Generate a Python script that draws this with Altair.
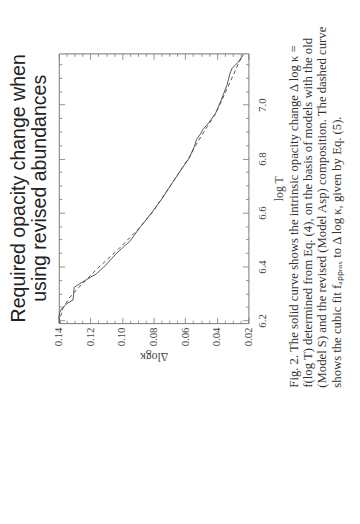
import altair as alt
import pandas as pd

# ---- data ----
logT_solid = [6.190, 6.200, 6.212, 6.228, 6.243, 6.262, 6.276, 6.300, 6.323, 6.339,
              6.355, 6.372, 6.397, 6.420, 6.445, 6.470, 6.493, 6.542, 6.573, 6.603,
              6.652, 6.707, 6.761, 6.804, 6.847, 6.871, 6.890, 6.908, 6.932, 6.968,
              7.017, 7.072, 7.092, 7.113, 7.133, 7.157, 7.184]
dk_solid = [0.1388, 0.1398, 0.1400, 0.1395, 0.1382, 0.1350, 0.1310, 0.1306, 0.1303, 0.1259,
            0.1215, 0.1164, 0.1117, 0.1080, 0.1041, 0.0996, 0.0951, 0.0890, 0.0848, 0.0808,
            0.0746, 0.0685, 0.0623, 0.0572, 0.0541, 0.0528, 0.0505, 0.0488, 0.0452, 0.0408,
            0.0372, 0.0336, 0.0327, 0.0318, 0.0305, 0.0266, 0.0233]

logT_fit = [6.190, 6.244, 6.280, 6.317, 6.353, 6.390, 6.427, 6.463, 6.500, 6.543,
            6.602, 6.653, 6.708, 6.763, 6.810, 6.847, 6.883, 6.920, 6.967, 7.018,
            7.066, 7.113, 7.150, 7.186]
dk_fit = [0.1400, 0.1375, 0.1338, 0.1283, 0.1222, 0.1160, 0.1092, 0.1025, 0.0963, 0.0890,
          0.0806, 0.0748, 0.0684, 0.0622, 0.0570, 0.0536, 0.0499, 0.0459, 0.0407, 0.0367,
          0.0330, 0.0293, 0.0265, 0.0234]

x_major = [0.02, 0.04, 0.06, 0.08, 0.10, 0.12, 0.14]
x_minor = [0.025, 0.03, 0.035, 0.045, 0.05, 0.055, 0.065, 0.07, 0.075, 0.085, 0.09,
           0.095, 0.105, 0.11, 0.115, 0.125, 0.13, 0.135]
y_major = [6.2, 6.4, 6.6, 6.8, 7.0]
y_minor = [6.25, 6.3, 6.35, 6.45, 6.5, 6.55, 6.65, 6.7, 6.75, 6.85, 6.9, 6.95,
           7.05, 7.1, 7.15]

title_lines = ["Required opacity change when", "using revised abundances"]
caption_lines = [
    "Fig. 2. The solid curve shows the intrinsic opacity change Δ log κ =",
    "f(log T) determined from Eq. (4), on the basis of models with the old",
    "(Model S) and the revised (Model Asp) composition. The dashed curve",
    "shows the cubic fit fₐₚₚᵣₒₓ to Δ log κ, given by Eq. (5).",
]

SERIF = "Liberation Serif"
SANS = "Liberation Sans"
LINE = "#555555"
TICK = "#777777"
TXT = "#444444"

solid_df = pd.DataFrame({"logT": logT_solid, "dk": dk_solid, "i": list(range(len(logT_solid)))})
fit_df = pd.DataFrame({"logT": logT_fit, "dk": dk_fit, "i": list(range(len(logT_fit)))})

xscale = alt.Scale(domain=[0.02, 0.14], reverse=True, nice=False, zero=False)
yscale = alt.Scale(domain=[6.19, 7.19], nice=False, zero=False)


def tick_axis(orient, values, size):
    return alt.Axis(orient=orient, values=values, tickSize=size, offset=-size,
                    labels=False, domain=False, grid=False, tickColor=TICK,
                    tickWidth=0.8, title=None)


bottom_major = alt.Axis(
    orient="bottom", values=x_major, tickSize=6, offset=-6, domain=False, grid=False,
    tickColor=TICK, tickWidth=0.8, format=".2f", labelAngle=270, labelAlign="right",
    labelBaseline="middle", labelPadding=4, labelFont=SERIF, labelFontSize=11,
    labelColor=TXT, labelFlush=False, labelOverlap=False,
    title="Δlogκ", titleAngle=180, titleBaseline="bottom", titleFont=SERIF,
    titleFontSize=12, titleFontWeight="normal", titleColor=TXT, titlePadding=4)

right_major = alt.Axis(
    orient="right", values=y_major, tickSize=6, offset=-6, domain=False, grid=False,
    tickColor=TICK, tickWidth=0.8, format=".1f", labelAngle=270, labelAlign="center",
    labelBaseline="top", labelPadding=8, labelFont=SERIF, labelFontSize=11,
    labelColor=TXT, labelFlush=False, labelOverlap=False,
    title="log T", titleAngle=270, titleBaseline="top", titleFont=SERIF,
    titleFontSize=12, titleFontWeight="normal", titleColor=TXT, titlePadding=7)

solid = alt.Chart(solid_df).mark_line(color=LINE, strokeWidth=1).encode(
    x=alt.X("dk:Q", scale=xscale, axis=bottom_major),
    y=alt.Y("logT:Q", scale=yscale, axis=right_major),
    order=alt.Order("i:Q"))

dashed = alt.Chart(fit_df).mark_line(color=LINE, strokeWidth=1, strokeDash=[4, 3]).encode(
    x=alt.X("dk:Q", scale=xscale, axis=tick_axis("bottom", x_minor, 3)),
    y=alt.Y("logT:Q", scale=yscale, axis=tick_axis("right", y_minor, 3)),
    order=alt.Order("i:Q"))

ax3 = alt.Chart(fit_df).mark_line(opacity=0).encode(
    x=alt.X("dk:Q", scale=xscale, axis=tick_axis("top", x_major, 6)),
    y=alt.Y("logT:Q", scale=yscale, axis=tick_axis("left", y_major, 6)),
    order=alt.Order("i:Q"))

ax4 = alt.Chart(fit_df).mark_line(opacity=0).encode(
    x=alt.X("dk:Q", scale=xscale, axis=tick_axis("top", x_minor, 3)),
    y=alt.Y("logT:Q", scale=yscale, axis=tick_axis("left", y_minor, 3)),
    order=alt.Order("i:Q"))

plot = alt.layer(solid, dashed, ax3, ax4).resolve_axis(
    x="independent", y="independent"
).properties(
    width=194, height=276,
    title=alt.TitleParams(text=title_lines, orient="left", anchor="middle", frame="group",
                          angle=270, font=SANS, fontSize=20, fontWeight="normal",
                          color="#222222", lineHeight=22, offset=3))

caption = alt.Chart(pd.DataFrame({"v": [0]})).mark_point(opacity=0).encode(
    x=alt.value(0), y=alt.value(0)
).properties(
    width=1, height=342,
    view=alt.ViewBackground(stroke="transparent"),
    title=alt.TitleParams(text=caption_lines, orient="left", anchor="start", frame="group",
                          angle=270, font=SERIF, fontSize=13, fontWeight="normal",
                          color="#333333", lineHeight=14.5, offset=2))

chart = alt.hconcat(plot, caption, spacing=102, bounds="flush").properties(
    padding={"left": 0, "top": 12, "right": 0, "bottom": 0}
).configure_view(stroke=TICK, strokeWidth=1)

chart.save("out.html", embed_options={"renderer": "svg", "actions": False})
